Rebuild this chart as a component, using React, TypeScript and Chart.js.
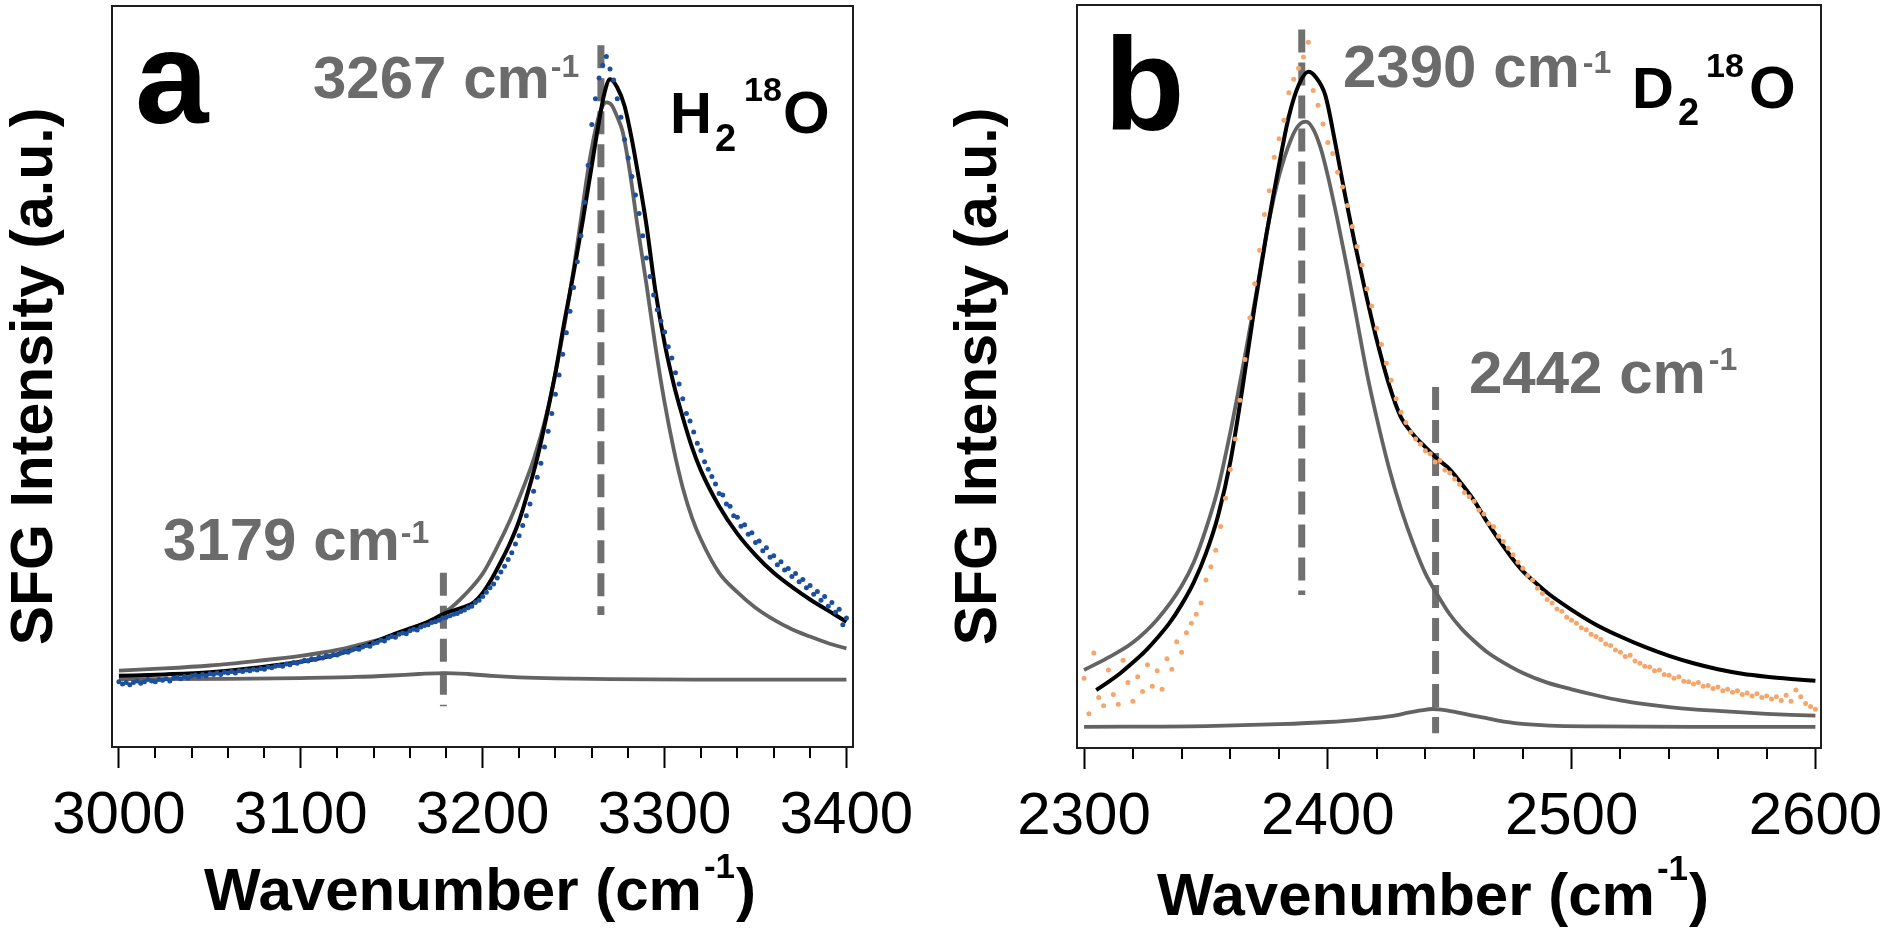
import React, { useEffect, useRef } from 'react';
import { Chart, registerables } from 'chart.js';

Chart.register(...registerables);

const FONT = "'Liberation Sans', Arial, Helvetica, sans-serif";
const BLACK = '#000000';
const GRAY_LINE = '#636363';
const GRAY_TEXT = '#6b6b6b';
const GRAY_DASH = '#707070';
const BLUE = '#1c4f9e';
const ORANGE = '#f5a66a';

// ---------------- Panel a : H2 18O ----------------
const aMajorTicks = [3000, 3100, 3200, 3300, 3400];
const aMinorTicks = [3020, 3040, 3060, 3080, 3120, 3140, 3160, 3180, 3220, 3240, 3260, 3280, 3320, 3340, 3360, 3380];
const aDataStart = 3000;
const aDataStep = 2;
const aData = [
  8.8, 8.5, 8.7, 8.4, 8.7, 8.9, 8.6, 8.8, 9.1, 8.9,
  8.8, 9.1, 9.0, 9.2, 8.9, 9.3, 9.4, 9.2, 9.5, 9.3,
  9.6, 9.7, 9.5, 9.8, 9.6, 9.9, 9.8, 10.0, 9.8, 10.1,
  10.0, 10.2, 10.0, 10.3, 10.2, 10.4, 10.3, 10.5, 10.4, 10.6,
  10.5, 10.8, 10.7, 10.9, 11.0, 10.9, 11.2, 11.1, 11.4, 11.3,
  11.5, 11.7, 11.6, 11.9, 11.8, 12.1, 12.0, 12.3, 12.2, 12.5,
  12.4, 12.7, 12.9, 12.8, 13.1, 13.3, 13.2, 13.5, 13.7, 13.6,
  14.0, 14.1, 14.4, 14.3, 14.7, 14.9, 14.8, 15.2, 15.4, 15.3,
  15.7, 15.9, 15.8, 16.2, 16.4, 16.5, 16.8, 16.9, 17.1, 17.4,
  17.5, 17.7, 17.9, 18.0, 18.3, 18.5, 18.8, 19.0, 19.5, 19.8,
  20.3, 20.9, 21.5, 22.0, 22.8, 23.6, 24.4, 25.3, 26.2, 27.4,
  28.5, 29.9, 31.2, 32.8, 34.5, 36.4, 38.3, 40.5, 42.6, 45.0,
  47.6, 50.2, 53.0, 55.9, 58.8, 62.0, 65.5, 69.0, 73.5, 78.5,
  84.0, 87.5, 90.3, 92.0, 93.2, 91.5, 90.0, 87.5, 85.0, 82.0,
  79.5, 77.0, 74.5, 72.0, 69.0, 66.0, 63.5, 61.0, 59.0, 57.5,
  56.0, 54.0, 52.5, 50.5, 49.0, 47.0, 45.0, 44.0, 42.5, 41.0,
  40.0, 38.5, 37.5, 36.5, 35.5, 34.2, 34.0, 32.8, 32.5, 31.2,
  31.0, 29.8, 30.0, 28.7, 28.9, 27.6, 27.8, 26.5, 26.9, 25.6,
  25.8, 24.6, 25.0, 23.9, 24.1, 23.0, 23.4, 22.3, 22.6, 21.5,
  21.8, 20.6, 21.0, 19.8, 20.3, 19.0, 19.5, 18.2, 18.6, 16.5,
  17.4,
];
const aSumX = [3000, 3025, 3050, 3075, 3100, 3120, 3140, 3150, 3160, 3170, 3180, 3190, 3195, 3200, 3205, 3210, 3215, 3220, 3225, 3230, 3235, 3240, 3245, 3250, 3255, 3260, 3264, 3267, 3270, 3274, 3278, 3282, 3286, 3290, 3295, 3300, 3305, 3310, 3315, 3320, 3330, 3340, 3350, 3360, 3370, 3380, 3390, 3400];
const aSumY = [9.6, 9.8, 10.1, 10.7, 11.5, 12.5, 14.1, 15.1, 16.0, 16.9, 18.1, 18.9, 19.5, 20.8, 22.7, 25.0, 27.5, 30.5, 34.5, 39.0, 44.5, 50.5, 57.5, 64.0, 71.0, 78.5, 84.5, 88.3, 90.1, 89.0, 86.5, 82.0, 76.5, 70.5, 61.5, 54.5, 49.0, 44.5, 40.5, 37.3, 32.5, 28.8, 25.9, 23.5, 21.6, 19.9, 18.4, 16.9];
const aMainX = [3000, 3025, 3050, 3075, 3100, 3120, 3140, 3150, 3160, 3170, 3180, 3190, 3200, 3208, 3215, 3222, 3228, 3235, 3240, 3245, 3250, 3254, 3258, 3262, 3265, 3268, 3271, 3274, 3277, 3281, 3285, 3290, 3295, 3300, 3305, 3310, 3315, 3320, 3330, 3340, 3350, 3360, 3370, 3380, 3390, 3400];
const aMainY = [10.3, 10.6, 11.0, 11.6, 12.3, 13.1, 14.3, 15.0, 15.9, 16.9, 18.3, 20.5, 23.4, 27.0, 30.6, 34.8, 38.8, 44.8, 50.5, 57.0, 64.5, 71.2, 78.0, 83.3, 86.0, 87.0, 86.6, 85.0, 83.0, 77.5, 70.5, 62.5, 54.0, 46.5, 40.2, 35.0, 31.0, 28.0, 23.5, 20.9, 18.8, 17.2, 15.9, 14.9, 14.0, 13.3];
const aSmallX = [3000, 3060, 3100, 3130, 3150, 3165, 3179, 3192, 3205, 3220, 3240, 3270, 3320, 3400];
const aSmallY = [9.15, 9.2, 9.3, 9.45, 9.65, 9.85, 9.98, 9.85, 9.6, 9.4, 9.25, 9.15, 9.1, 9.1];
const aMarkerX = [3265, 3178.4];
const aMarkerTop = [94.7, 23.5];
const aMarkerBottom = [17.8, 5.5];

// ---------------- Panel b : D2 18O ----------------
const bMajorTicks = [2300, 2400, 2500, 2600];
const bMinorTicks = [2320, 2340, 2360, 2380, 2420, 2440, 2460, 2480, 2520, 2540, 2560, 2580];
const bDataStart = 2300;
const bDataStep = 2;
const bData = [
  9.4, 4.6, 12.8, 6.8, 5.7, 10.5, 7.2, 5.9, 11.8, 8.8,
  6.3, 9.6, 7.6, 11.2, 8.3, 10.4, 7.9, 12.0, 10.6, 14.3,
  12.9, 15.5, 16.8, 18.0, 19.5, 22.6, 24.4, 26.6, 29.8, 33.6,
  37.5, 41.6, 46.8, 52.3, 57.9, 62.5, 67.0, 71.8, 75.0, 79.5,
  82.0, 84.5, 88.2, 90.0, 91.5, 93.0, 95.0, 88.5, 86.5, 84.0,
  81.5, 80.0, 77.5, 75.5, 73.0, 70.2, 67.5, 65.0, 61.8, 59.5,
  56.5, 54.3, 51.8, 49.5, 47.0, 45.2, 43.8, 42.5, 41.6, 40.9,
  40.0, 39.6, 38.5, 38.7, 37.4, 37.0, 36.2, 35.5, 34.4, 33.8,
  33.2, 32.0, 31.5, 30.2, 29.8, 28.5, 27.8, 26.9, 26.0, 25.0,
  24.2, 23.2, 22.6, 21.5, 20.8, 20.0, 19.5, 18.7, 18.4, 17.6,
  17.2, 16.8, 16.2, 15.9, 15.3, 15.0, 14.6, 14.0, 13.8, 13.2,
  12.9, 12.3, 12.5, 11.7, 11.4, 11.0, 10.9, 10.4, 10.5, 9.9,
  9.8, 9.4, 9.6, 9.0, 8.9, 8.6, 8.8, 8.3, 8.4, 8.0,
  8.2, 7.7, 7.9, 7.5, 7.7, 7.2, 7.4, 7.0, 7.3, 6.8,
  7.0, 6.6, 6.9, 6.4, 7.1, 6.3, 7.8, 6.9, 6.0, 5.6,
  5.2,
];
const bSumX = [2305, 2310, 2315, 2320, 2325, 2330, 2335, 2340, 2345, 2350, 2355, 2360, 2365, 2370, 2375, 2380, 2384, 2388, 2392, 2395, 2399, 2403, 2407, 2411, 2415, 2420, 2425, 2430, 2435, 2440, 2445, 2450, 2455, 2460, 2465, 2470, 2475, 2480, 2485, 2490, 2500, 2510, 2520, 2530, 2540, 2550, 2560, 2570, 2580, 2590, 2600];
const bSumY = [7.8, 8.9, 10.1, 11.5, 13.0, 14.8, 16.8, 19.3, 22.3, 26.2, 31.3, 38.5, 48.5, 59.5, 69.5, 78.5, 85.0, 89.2, 91.0, 90.3, 87.8, 81.5, 74.5, 68.0, 62.0, 55.0, 49.0, 44.5, 42.2, 40.5, 38.9, 37.5, 35.5, 33.3, 30.6, 28.1, 25.8, 23.8, 22.3, 20.9, 18.6, 16.6, 15.0, 13.6, 12.4, 11.4, 10.6, 10.0, 9.6, 9.3, 9.05];
const bMainX = [2300, 2310, 2320, 2330, 2340, 2345, 2350, 2355, 2360, 2365, 2370, 2375, 2380, 2385, 2388, 2391, 2394, 2397, 2400, 2404, 2408, 2412, 2416, 2420, 2425, 2430, 2435, 2440, 2445, 2450, 2455, 2460, 2465, 2470, 2480, 2490, 2500, 2510, 2520, 2530, 2540, 2550, 2560, 2570, 2580, 2590, 2600];
const bMainY = [10.5, 12.2, 14.2, 17.3, 21.8, 25.0, 29.5, 35.0, 42.5, 51.0, 60.0, 69.5, 77.0, 82.0, 83.8, 84.3, 83.3, 80.8, 77.0, 71.0, 64.5, 57.5, 50.5, 44.5, 37.8, 32.2, 27.5, 23.5, 20.6, 18.0, 16.0, 14.4, 13.0, 11.9, 10.1, 8.8, 7.9, 7.1, 6.4, 5.9, 5.5, 5.2, 5.0, 4.8, 4.6, 4.45, 4.35];
const bSmallX = [2300, 2350, 2380, 2400, 2415, 2426, 2433, 2438, 2443, 2448, 2453, 2458, 2466, 2473, 2481, 2491, 2510, 2550, 2600];
const bSmallY = [2.85, 2.95, 3.2, 3.5, 3.9, 4.3, 4.75, 5.05, 5.25, 5.1, 4.8, 4.45, 3.95, 3.5, 3.2, 3.0, 2.9, 2.85, 2.85];
const bMarkerX = [2389.3, 2444.2];
const bMarkerTop = [96.7, 48.6];
const bMarkerBottom = [20.6, 2.0];

// ---------------- helpers ----------------
type Pt = { x: number; y: number };
const xy = (xs: number[], ys: number[]): Pt[] => xs.map((x, i) => ({ x, y: ys[i] }));
const seq = (start: number, step: number, ys: number[]): Pt[] => ys.map((y, i) => ({ x: start + i * step, y }));

type Run = { text: string; size: number; y: number; x?: number; gap?: number; color: string; weight?: string };
type Label = Run[];

interface PanelSpec {
  xMin: number;
  xMax: number;
  majorTicks: number[];
  minorTicks: number[];
  data: Pt[];
  dataColor: string;
  sum: Pt[];
  main: Pt[];
  small: Pt[];
  markers: Pt[][];
  padTop: number;
  padRight: number;
  yWidth: number;
  xHeight: number;
  labels: Label[];
}

const markers = (xs: number[], tops: number[], bottoms: number[]): Pt[][] =>
  xs.map((x, i) => [{ x, y: tops[i] }, { x, y: bottoms[i] }]);

const panelA: PanelSpec = {
  xMin: 2996.2,
  xMax: 3403.6,
  majorTicks: aMajorTicks,
  minorTicks: aMinorTicks,
  data: seq(aDataStart, aDataStep, aData),
  dataColor: BLUE,
  sum: xy(aSumX, aSumY),
  main: xy(aMainX, aMainY),
  small: xy(aSmallX, aSmallY),
  markers: markers(aMarkerX, aMarkerTop, aMarkerBottom),
  padTop: 6,
  padRight: 91,
  yWidth: 112,
  xHeight: 192,
  labels: [
    [{ text: 'a', x: 135, y: 123, size: 132, color: BLACK }],
    [
      { text: '3267 cm', x: 313, y: 98, size: 60, color: GRAY_TEXT },
      { text: '-1', gap: 1, y: 77, size: 32, color: GRAY_TEXT },
    ],
    [
      { text: 'H', x: 670, y: 133, size: 58, color: BLACK },
      { text: '2', x: 715, y: 151, size: 38, color: BLACK },
      { text: '18', x: 744, y: 101, size: 34, color: BLACK },
      { text: 'O', x: 783, y: 133, size: 60, color: BLACK },
    ],
    [
      { text: '3179 cm', x: 163, y: 560, size: 60, color: GRAY_TEXT },
      { text: '-1', gap: 1, y: 543, size: 32, color: GRAY_TEXT },
    ],
    [
      { text: 'Wavenumber (cm', x: 204, y: 910, size: 60, color: BLACK },
      { text: '-1', gap: 2, y: 878, size: 35, color: BLACK },
      { text: ')', gap: 1, y: 910, size: 60, color: BLACK },
    ],
  ],
};

const panelB: PanelSpec = {
  xMin: 2297.1,
  xMax: 2602.3,
  majorTicks: bMajorTicks,
  minorTicks: bMinorTicks,
  data: seq(bDataStart, bDataStep, bData),
  dataColor: ORANGE,
  sum: xy(bSumX, bSumY),
  main: xy(bMainX, bMainY),
  small: xy(bSmallX, bSmallY),
  markers: markers(bMarkerX, bMarkerTop, bMarkerBottom),
  padTop: 5,
  padRight: 67,
  yWidth: 133,
  xHeight: 191,
  labels: [
    [{ text: 'b', x: 160, y: 130, size: 132, color: BLACK }],
    [
      { text: '2390 cm', x: 399, y: 87, size: 60, color: GRAY_TEXT },
      { text: '-1', gap: 3, y: 73, size: 32, color: GRAY_TEXT },
    ],
    [
      { text: 'D', x: 688, y: 108, size: 58, color: BLACK },
      { text: '2', x: 734, y: 125, size: 38, color: BLACK },
      { text: '18', x: 762, y: 77, size: 34, color: BLACK },
      { text: 'O', x: 805, y: 108, size: 60, color: BLACK },
    ],
    [
      { text: '2442 cm', x: 525, y: 393, size: 60, color: GRAY_TEXT },
      { text: '-1', gap: 3, y: 370, size: 32, color: GRAY_TEXT },
    ],
    [
      { text: 'Wavenumber (cm', x: 213, y: 915, size: 60, color: BLACK },
      { text: '-1', gap: 2, y: 880, size: 35, color: BLACK },
      { text: ')', gap: 1, y: 915, size: 60, color: BLACK },
    ],
  ],
};

function makeDecor(spec: PanelSpec) {
  return {
    id: 'panelDecor',
    afterDraw(chart: any) {
      const { ctx, chartArea } = chart;
      const xs = chart.scales.x;
      ctx.save();
      // minor ticks
      ctx.strokeStyle = BLACK;
      ctx.lineWidth = 2;
      for (const v of spec.minorTicks) {
        const px = Math.round(xs.getPixelForValue(v));
        ctx.beginPath();
        ctx.moveTo(px, chartArea.bottom);
        ctx.lineTo(px, chartArea.bottom + 11);
        ctx.stroke();
      }
      // frame
      ctx.strokeStyle = '#1e1e1e';
      ctx.lineWidth = 2;
      ctx.strokeRect(chartArea.left, chartArea.top, chartArea.right - chartArea.left, chartArea.bottom - chartArea.top);
      // texts
      ctx.textBaseline = 'alphabetic';
      ctx.textAlign = 'left';
      for (const label of spec.labels) {
        let cx = 0;
        for (const r of label) {
          if (r.x !== undefined) cx = r.x;
          else cx += r.gap || 0;
          ctx.font = `${r.weight || 'bold'} ${r.size}px ${FONT}`;
          ctx.fillStyle = r.color;
          ctx.fillText(r.text, cx, r.y);
          cx += ctx.measureText(r.text).width;
        }
      }
      ctx.restore();
    },
  };
}

function buildConfig(spec: PanelSpec): any {
  const line = (data: Pt[], color: string, width: number, order: number) => ({
    data,
    showLine: true,
    pointRadius: 0,
    pointHoverRadius: 0,
    borderColor: color,
    borderWidth: width,
    cubicInterpolationMode: 'monotone',
    fill: false,
    order,
  });
  const dashSets = spec.markers.map((m) => ({
    data: m,
    showLine: true,
    pointRadius: 0,
    pointHoverRadius: 0,
    borderColor: GRAY_DASH,
    borderWidth: 7,
    borderDash: [23, 10],
    tension: 0,
    fill: false,
    order: 5,
  }));
  return {
    type: 'scatter',
    data: {
      datasets: [
        {
          data: spec.data,
          showLine: false,
          pointRadius: 2.5,
          pointHoverRadius: 0,
          pointBackgroundColor: spec.dataColor,
          pointBorderWidth: 0,
          order: 1,
        },
        line(spec.sum, BLACK, 4, 2),
        line(spec.main, GRAY_LINE, 3.8, 3),
        line(spec.small, GRAY_LINE, 3.8, 4),
        ...dashSets,
      ],
    },
    options: {
      animation: false,
      responsive: false,
      devicePixelRatio: 1,
      events: [],
      layout: { padding: { top: spec.padTop, right: spec.padRight, bottom: 0, left: 0 } },
      plugins: { legend: { display: false }, tooltip: { enabled: false } },
      scales: {
        x: {
          type: 'linear',
          min: spec.xMin,
          max: spec.xMax,
          afterBuildTicks: (s: any) => {
            s.ticks = spec.majorTicks.map((v) => ({ value: v }));
          },
          afterFit: (s: any) => {
            s.height = spec.xHeight;
            s.paddingLeft = 0;
            s.paddingRight = 0;
          },
          grid: { display: true, drawOnChartArea: false, drawTicks: true, tickLength: 21, tickWidth: 2, tickColor: BLACK },
          border: { display: false },
          ticks: {
            font: { family: FONT, size: 60, weight: 'normal' },
            color: BLACK,
            padding: 12,
            maxRotation: 0,
            minRotation: 0,
            autoSkip: false,
            callback: (v: any) => String(v),
          },
          title: { display: false },
        },
        y: {
          type: 'linear',
          min: 0,
          max: 100,
          afterFit: (s: any) => {
            s.width = spec.yWidth;
          },
          grid: { display: false },
          border: { display: false },
          ticks: { display: false },
          title: {
            display: true,
            text: 'SFG Intensity (a.u.)',
            font: { family: FONT, size: 59, weight: 'bold' },
            color: BLACK,
            padding: 0,
          },
        },
      },
    },
    plugins: [makeDecor(spec)],
  };
}

function Panel({ spec }: { spec: PanelSpec }) {
  const ref = useRef<HTMLCanvasElement>(null);
  useEffect(() => {
    if (!ref.current) return;
    const chart = new Chart(ref.current, buildConfig(spec));
    return () => chart.destroy();
  }, [spec]);
  return <canvas ref={ref} width={944} height={939} style={{ display: 'block', width: '944px', height: '939px' }} />;
}

export default function App() {
  return (
    <div style={{ position: 'absolute', left: 0, top: 0, width: 1888, height: 939, background: '#ffffff', display: 'flex' }}>
      <Panel spec={panelA} />
      <Panel spec={panelB} />
    </div>
  );
}
